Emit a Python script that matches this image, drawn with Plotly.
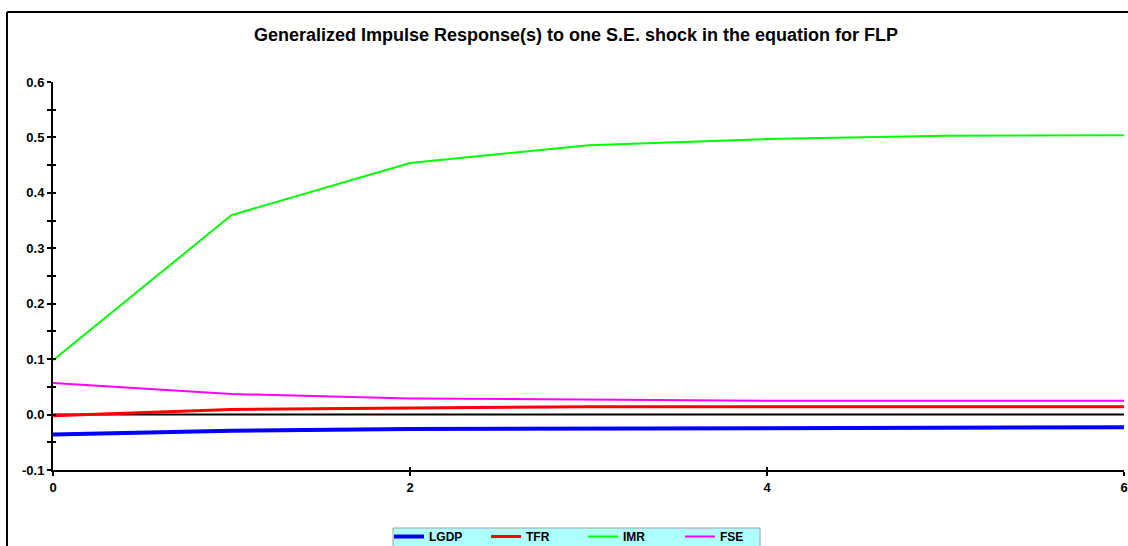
import plotly.graph_objects as go

horizon = [0, 1, 2, 3, 4, 5, 6]
lgdp = [-0.036, -0.029, -0.026, -0.025, -0.025, -0.024, -0.023]
tfr = [-0.002, 0.009, 0.012, 0.014, 0.014, 0.014, 0.014]
imr = [0.098, 0.360, 0.454, 0.486, 0.497, 0.503, 0.504]
fse = [0.057, 0.037, 0.029, 0.027, 0.025, 0.025, 0.025]

series = [
    ("LGDP", lgdp, "#0000ff", 4),
    ("TFR", tfr, "#ff0000", 3),
    ("IMR", imr, "#00ff00", 2),
    ("FSE", fse, "#ff00ff", 2),
]

W, H = 1128, 546
L, R, T, B = 53, 4, 82, 76
PW, PH = W - L - R, H - T - B


def px(x):
    return (x - L) / PW


def py(y):
    return (H - B - y) / PH


fig = go.Figure()
# zero line
fig.add_trace(go.Scatter(x=[horizon[0], horizon[-1]], y=[0, 0], mode="lines",
                         line=dict(color="black", width=2), showlegend=False,
                         hoverinfo="skip"))
for name, vals, col, w in series:
    fig.add_trace(go.Scatter(x=horizon, y=vals, mode="lines", name=name,
                             line=dict(color=col, width=w)))

tickfont = dict(family="Liberation Sans, Arial", size=13, color="black", weight="bold")

fig.update_layout(
    width=W, height=H,
    margin=dict(l=L, r=R, t=T, b=B, autoexpand=False),
    paper_bgcolor="white", plot_bgcolor="white",
    title=dict(text="Generalized Impulse Response(s) to one S.E. shock in the equation for FLP",
               x=576 / W, xanchor="center", y=1 - 35 / H, yanchor="middle",
               font=dict(family="Liberation Sans, Arial", size=18, color="black", weight="bold")),
    xaxis=dict(range=[0, 6], tickvals=[0, 2, 4, 6],
               showgrid=False, zeroline=False, showline=True, linecolor="black", linewidth=2,
               ticks="outside", ticklen=4, tickwidth=2, tickcolor="black", tickfont=tickfont,
               ticklabeloverflow="allow", automargin=False),
    yaxis=dict(range=[-0.1, 0.6], tickvals=[-0.1, 0, 0.1, 0.2, 0.3, 0.4, 0.5, 0.6],
               ticktext=["-0.1", "0.0", "0.1", "0.2", "0.3", "0.4", "0.5", "0.6"],
               showgrid=False, zeroline=False, showline=True, linecolor="black", linewidth=2,
               ticks="outside", ticklen=4, tickwidth=2, tickcolor="black", tickfont=tickfont,
               automargin=False,
               minor=dict(dtick=0.05, tick0=0, ticks="outside", ticklen=4, tickwidth=2,
                          tickcolor="black", showgrid=False)),
    yaxis2=dict(range=[-0.1, 0.6], overlaying="y", side="left", showticklabels=False,
                showgrid=False, zeroline=False, showline=False, dtick=0.05, tick0=0,
                ticks="inside", ticklen=3, tickwidth=2, tickcolor="black"),
    xaxis2=dict(range=[0, 6], overlaying="x", side="bottom", showticklabels=False,
                showgrid=False, zeroline=False, showline=False, tickvals=[0, 2, 4, 6],
                ticks="inside", ticklen=3, tickwidth=2, tickcolor="black"),
    legend=dict(orientation="h", xref="container", yref="paper",
                x=389 / W, xanchor="left", y=py(522), yanchor="top",
                bgcolor="rgba(0,0,0,0)", borderwidth=0,
                font=dict(family="Liberation Sans, Arial", size=12, color="black", weight="bold"),
                entrywidth=52, entrywidthmode="pixels", tracegroupgap=0),
    showlegend=True,
)
# dummy trace to activate the inside-tick overlay axes
fig.add_trace(go.Scatter(x=[0], y=[0], xaxis="x2", yaxis="y2", mode="markers",
                         marker=dict(opacity=0), showlegend=False, hoverinfo="skip"))

# legend box
fig.add_shape(type="rect", xref="paper", yref="paper", x0=px(393), x1=px(760), y0=py(528), y1=py(550),
              fillcolor="#b0ffff", line=dict(color="#a0a0a0", width=1), layer="below")
# outer frame lines (left and top)
fig.add_shape(type="line", xref="paper", yref="paper", x0=px(7), x1=px(1135), y0=py(12), y1=py(12),
              line=dict(color="black", width=2))
fig.add_shape(type="line", xref="paper", yref="paper", x0=px(7), x1=px(7), y0=py(12), y1=py(560),
              line=dict(color="black", width=2))

fig.write_html("out.html", config={"displayModeBar": False},
               post_script="document.body.style.margin='0';document.body.style.padding='0';")
